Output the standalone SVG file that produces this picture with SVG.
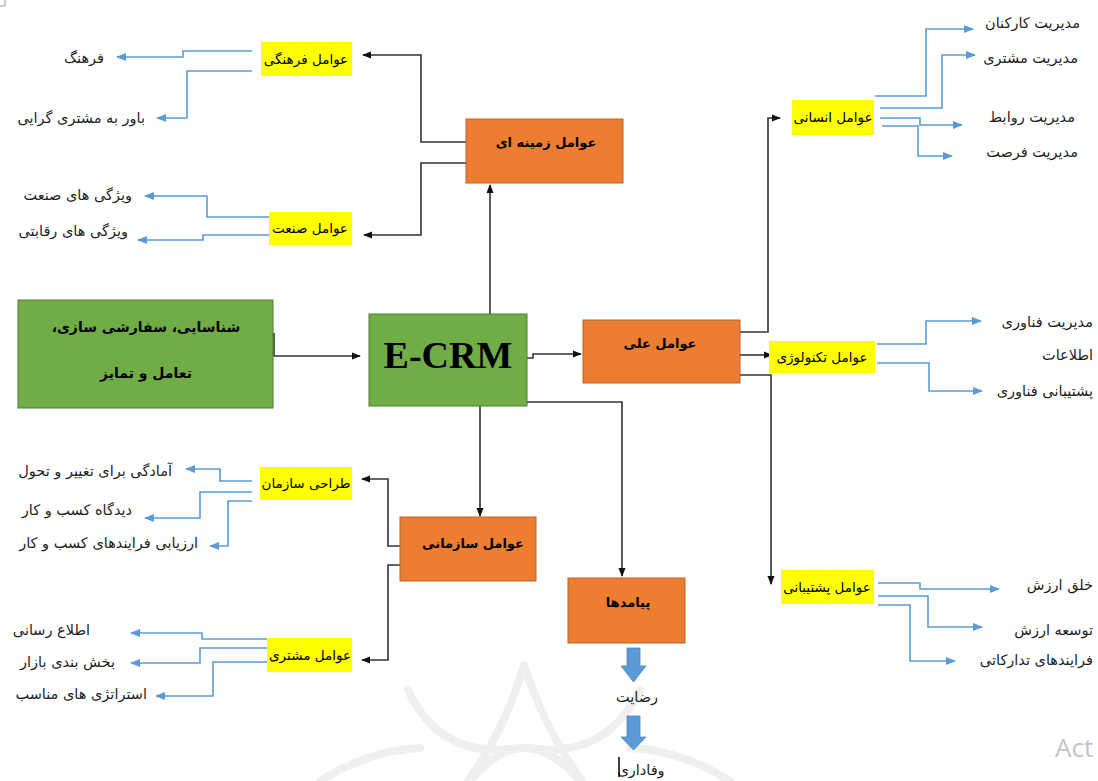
<svg xmlns="http://www.w3.org/2000/svg" width="1098" height="781" viewBox="0 0 1098 781">
<style>
  .ar{font-family:"DejaVu Sans","Noto Sans",sans-serif;font-size:14.5px;fill:#1e1e1e}
  .lbl{font-family:"DejaVu Sans","Noto Sans",sans-serif;font-size:13.5px;fill:#000;text-anchor:middle}
  .ttl{font-family:"DejaVu Sans","Noto Sans",sans-serif;font-size:13px;font-weight:bold;fill:#000;text-anchor:middle}
  .org{fill:#ED7D31;stroke:#B9622A;stroke-width:1}
  .grn{fill:#70AD47;stroke:#4E7F31;stroke-width:1}
  .hl{fill:#FFFF00}
  .blk{fill:none;stroke:#333;stroke-width:1.6}
  .blu{fill:none;stroke:#5B9BD5;stroke-width:1.6}
  .wm{fill:none;stroke:#efefef;stroke-width:8;stroke-linecap:round}
</style>
<defs>
  <marker id="ab" viewBox="0 0 10 10" refX="9" refY="5" markerWidth="9" markerHeight="9" orient="auto" markerUnits="userSpaceOnUse"><path d="M0,1 L10,5 L0,9 z" fill="#111"/></marker>
  <marker id="bb" viewBox="0 0 10 10" refX="9" refY="5" markerWidth="11" markerHeight="10" orient="auto" markerUnits="userSpaceOnUse"><path d="M0,1 L10,5 L0,9 z" fill="#5B9BD5"/></marker>
</defs>
<rect width="1098" height="781" fill="#fff"/>

<g id="watermark">
  <path class="wm" d="M408,690 Q440,760 520,748"/>
  <path class="wm" d="M640,690 Q605,760 528,748"/>
  <path class="wm" d="M524,665 Q505,730 468,781"/>
  <path class="wm" d="M524,665 Q545,730 582,781"/>
  <path class="wm" d="M470,781 Q524,715 580,781"/>
  <path class="wm" d="M320,781 Q370,750 420,748"/>
  <path class="wm" d="M730,781 Q680,750 630,748"/>
  <path d="M0,6 H5 V0" fill="none" stroke="#999" stroke-width="1"/>
</g>

<g id="connectors">
  <path class="blk" d="M274,333 V356 H360" marker-end="url(#ab)"/>
  <path class="blk" d="M490,314 V185" marker-end="url(#ab)"/>
  <path class="blk" d="M466,142 H421 V55 H363" marker-end="url(#ab)"/>
  <path class="blk" d="M466,163 H421 V235 H364" marker-end="url(#ab)"/>
  <path class="blk" d="M527,358 H533 V354 H581" marker-end="url(#ab)"/>
  <path class="blk" d="M527,402 H622 V576" marker-end="url(#ab)"/>
  <path class="blk" d="M480,406 V516" marker-end="url(#ab)"/>
  <path class="blk" d="M400,546 H388 V479 H362" marker-end="url(#ab)"/>
  <path class="blk" d="M400,565 H388 V660 H362" marker-end="url(#ab)"/>
  <path class="blk" d="M740,332 H768 V118 H780" marker-end="url(#ab)"/>
  <path class="blk" d="M740,355 H772" marker-end="url(#ab)"/>
  <path class="blk" d="M740,375 H771 V584" marker-end="url(#ab)"/>

  <path class="blu" d="M252,51 H183 V57 H117" marker-end="url(#bb)"/>
  <path class="blu" d="M252,71 H187 V118 H157" marker-end="url(#bb)"/>
  <path class="blu" d="M269,217 H207 V196 H145" marker-end="url(#bb)"/>
  <path class="blu" d="M269,235 H203 V240 H138" marker-end="url(#bb)"/>
  <path class="blu" d="M252,481 H220 V469 H186" marker-end="url(#bb)"/>
  <path class="blu" d="M252,492 H200 V518 H145" marker-end="url(#bb)"/>
  <path class="blu" d="M252,501 H228 V546 H210" marker-end="url(#bb)"/>
  <path class="blu" d="M267,639 H202 V633 H131" marker-end="url(#bb)"/>
  <path class="blu" d="M267,648 H200 V663 H131" marker-end="url(#bb)"/>
  <path class="blu" d="M267,662 H213 V696 H156" marker-end="url(#bb)"/>
  <path class="blu" d="M875,96 H926 V29 H973" marker-end="url(#bb)"/>
  <path class="blu" d="M880,108 H942 V55 H975" marker-end="url(#bb)"/>
  <path class="blu" d="M880,118 H920 V125 H962" marker-end="url(#bb)"/>
  <path class="blu" d="M882,126 H918 V156 H952" marker-end="url(#bb)"/>
  <path class="blu" d="M877,344 H926 V321 H981" marker-end="url(#bb)"/>
  <path class="blu" d="M877,363 H929 V391 H982" marker-end="url(#bb)"/>
  <path class="blu" d="M878,583 H920 V589 H999" marker-end="url(#bb)"/>
  <path class="blu" d="M878,596 H928 V627 H982" marker-end="url(#bb)"/>
  <path class="blu" d="M878,605 H910 V661 H955" marker-end="url(#bb)"/>

  <polygon points="627,648 640,648 640,666 646,666 633.5,682 621,666 627,666" fill="#5B9BD5" stroke="#4A86BE" stroke-width="0.8"/>
  <polygon points="627,716 640,716 640,737 646,737 633.5,750 621,737 627,737" fill="#5B9BD5" stroke="#4A86BE" stroke-width="0.8"/>
</g>

<g id="n-input">
  <rect class="grn" x="18" y="300" width="255" height="108"/>
  <text class="ttl" x="146" y="332" style="font-size:14px">شناسایی، سفارشی سازی،&#x200F;</text>
  <text class="ttl" x="146" y="378" style="font-size:14px">تعامل و تمایز</text>
</g>
<g id="n-ecrm">
  <rect class="grn" x="369" y="314" width="158" height="92"/>
  <text x="448" y="368" text-anchor="middle" font-family="'Liberation Serif',serif" font-weight="bold" font-size="38" fill="#000">E-CRM</text>
</g>
<g id="n-zamine">
  <rect class="org" x="466" y="119" width="157" height="64"/>
  <text class="ttl" x="546" y="147">عوامل زمینه ای</text>
</g>
<g id="n-ali">
  <rect class="org" x="583" y="320" width="157" height="63"/>
  <text class="ttl" x="660" y="348">عوامل علی</text>
</g>
<g id="n-sazmani">
  <rect class="org" x="400" y="517" width="136" height="64"/>
  <text class="ttl" x="473" y="548">عوامل سازمانی</text>
</g>
<g id="n-payamad">
  <rect class="org" x="568" y="578" width="117" height="65"/>
  <text class="ttl" x="628" y="607">پیامدها</text>
</g>

<g id="n-farhangi">
  <rect class="hl" x="261" y="42" width="91" height="34"/>
  <text class="lbl" x="306" y="64">عوامل فرهنگی</text>
  <text class="ar" x="104" y="63" text-anchor="end">فرهنگ</text>
  <text class="ar" x="145" y="123" text-anchor="end">باور به مشتری گرایی</text>
</g>
<g id="n-sanat">
  <rect class="hl" x="269" y="212" width="83" height="33"/>
  <text class="lbl" x="310" y="233">عوامل صنعت</text>
  <text class="ar" x="132" y="200" text-anchor="end">ویژگی های صنعت</text>
  <text class="ar" x="128" y="236" text-anchor="end">ویژگی های رقابتی</text>
</g>
<g id="n-tarahi">
  <rect class="hl" x="260" y="467" width="92" height="33"/>
  <text class="lbl" x="306" y="488">طراحی سازمان</text>
  <text class="ar" x="172" y="476" text-anchor="end">آمادگی برای تغییر و تحول</text>
  <text class="ar" x="132" y="515" text-anchor="end">دیدگاه کسب و کار</text>
  <text class="ar" x="198" y="548" text-anchor="end">ارزیابی فرایندهای کسب و کار</text>
</g>
<g id="n-moshtari">
  <rect class="hl" x="267" y="638" width="85" height="34"/>
  <text class="lbl" x="310" y="660">عوامل مشتری</text>
  <text class="ar" x="90" y="635" text-anchor="end">اطلاع رسانی</text>
  <text class="ar" x="115" y="667" text-anchor="end">بخش بندی بازار</text>
  <text class="ar" x="147" y="699" text-anchor="end">استراتژی های مناسب</text>
</g>
<g id="n-ensani">
  <rect class="hl" x="792" y="100" width="82" height="35"/>
  <text class="lbl" x="833" y="122">عوامل انسانی</text>
  <text class="ar" x="1080" y="28" text-anchor="end">مدیریت کارکنان</text>
  <text class="ar" x="1078" y="63" text-anchor="end">مدیریت مشتری</text>
  <text class="ar" x="1075" y="122" text-anchor="end">مدیریت روابط</text>
  <text class="ar" x="1078" y="157" text-anchor="end">مدیریت فرصت</text>
</g>
<g id="n-technology">
  <rect class="hl" x="769" y="341" width="106" height="32"/>
  <text class="lbl" x="822" y="362">عوامل تکنولوژی</text>
  <text class="ar" x="1093" y="327" text-anchor="end">مدیریت فناوری</text>
  <text class="ar" x="1093" y="360" text-anchor="end">اطلاعات</text>
  <text class="ar" x="1093" y="396" text-anchor="end">پشتیبانی فناوری</text>
</g>
<g id="n-poshtibani">
  <rect class="hl" x="781" y="570" width="93" height="34"/>
  <text class="lbl" x="827" y="592">عوامل پشتیبانی</text>
  <text class="ar" x="1093" y="590" text-anchor="end">خلق ارزش</text>
  <text class="ar" x="1093" y="635" text-anchor="end">توسعه ارزش</text>
  <text class="ar" x="1093" y="665" text-anchor="end">فرایندهای تدارکاتی</text>
</g>
<g id="n-outcomes">
  <text class="ar" x="637" y="702" text-anchor="middle">رضایت</text>
  <text class="ar" x="641" y="775" text-anchor="middle">وفاداری</text>
  <path d="M619,757 V777" stroke="#000" stroke-width="1.5"/>
</g>
<text x="1055" y="757" font-family="'Open Sans',sans-serif" font-size="26" fill="#c4c4c4">Act</text>
</svg>
